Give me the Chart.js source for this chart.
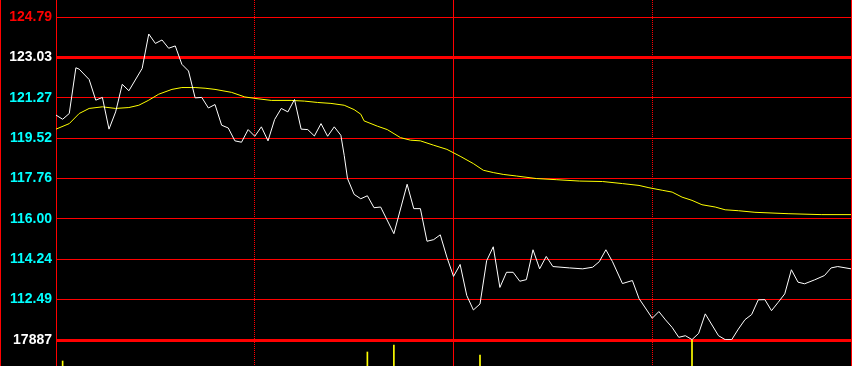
<!DOCTYPE html>
<html>
<head>
<meta charset="utf-8">
<script src="https://cdn.jsdelivr.net/npm/chart.js@4"></script>
<style>html,body{margin:0;padding:0;background:#000;}canvas{display:block;}</style>
</head>
<body>
<canvas id="c" width="852" height="366"></canvas>
<script>
// ---- data (minute of session 0..240) ----
const totalMinutes = 240;
const sessionMarks = [60, 120, 180];

const priceMinutes = [0,2,4,6,7,10,12,14,16,18,20,22,26,28,30,32,34,36,38,40,42,44,46,48,50,52,54,56,58,60,62,64,66,68,70,72,74,76,78,80,82,84,86,87,88,90,92,94,96,98,102,106,108,110,112,114,116,118,120,122,124,126,128,130,132,134,136,138,140,142,144,146,148,150,155,159,162,164,166,168,171,174,176,180,182,184,186,188,190,192,194,196,200,202,204,206,208,210,212,214,216,218,220,222,224,226,229,232,234,236,240];
const priceValues = [120.52,120.34,120.59,122.58,122.52,122.07,121.17,121.29,119.91,120.66,121.86,121.58,122.55,124.05,123.64,123.79,123.43,123.53,122.73,122.44,121.27,121.29,120.83,120.98,120.08,119.96,119.40,119.34,119.89,119.60,120.01,119.40,120.33,120.81,120.66,121.20,119.91,119.89,119.61,120.15,119.60,120.01,119.64,118.77,117.76,117.07,116.88,117.01,116.49,116.52,115.36,117.51,116.45,116.45,115.03,115.10,115.31,114.34,113.50,114.02,112.67,112.04,112.30,114.18,114.79,113.02,113.68,113.68,113.29,113.36,114.66,113.83,114.37,113.93,113.87,113.83,113.90,114.14,114.66,114.14,113.19,113.32,112.54,111.68,111.97,111.61,111.28,110.85,110.92,110.75,111.02,111.87,110.92,110.75,110.75,111.21,111.62,111.84,112.48,112.49,112.01,112.37,112.74,113.79,113.25,113.18,113.35,113.54,113.87,113.93,113.83];

const avgMinutes = [0,4,7,10,14,18,22,25,28,31,35,38,42,45,48,53,57,61,65,71,75,79,83,87,90,92,93,97,100,104,107,110,114,118,122,126,129,132,135,139,145,151,158,165,171,176,179,183,186,189,192,195,199,202,206,211,221,231,240];
const avgValues = [119.91,120.15,120.59,120.81,120.88,120.81,120.85,120.95,121.17,121.43,121.64,121.72,121.72,121.69,121.64,121.51,121.31,121.23,121.16,121.16,121.13,121.07,121.03,120.95,120.76,120.56,120.27,120.04,119.89,119.54,119.43,119.40,119.21,119.03,118.73,118.41,118.12,118.02,117.94,117.87,117.76,117.71,117.65,117.63,117.54,117.46,117.36,117.25,117.17,116.95,116.81,116.62,116.52,116.40,116.36,116.29,116.23,116.19,116.19];

const volMinutes = [2, 94, 102, 128, 192];
const volValues = [3440, 9630, 14450, 7570, 17887];

const priceTicks = [124.79, 123.03, 121.27, 119.52, 117.76, 116.00, 114.24, 112.49];
const prevClose = 123.03;
const priceMin = 110.733;
const priceMax = 124.79;
const volTicks = [17887];
const volMax = 17887;

const RED = '#ff0000';

const framePlugin = {
  id: 'frame',
  beforeDraw(chart) {
    const c = chart.ctx;
    c.save();
    c.fillStyle = '#000';
    c.fillRect(0, 0, chart.width, chart.height);
    c.restore();
  },
  beforeDatasetsDraw(chart) {
    const c = chart.ctx;
    const xs = chart.scales.x;
    const H = chart.height;
    c.save();
    c.strokeStyle = RED;
    c.lineWidth = 1;
    [0.5, chart.chartArea.left + 0.5, chart.chartArea.right + 0.5].forEach(x => {
      c.beginPath(); c.moveTo(x, 0); c.lineTo(x, H); c.stroke();
    });
    sessionMarks.forEach(m => {
      const x = Math.floor(xs.getPixelForValue(m)) + 0.5;
      c.setLineDash(m === 120 ? [] : [1, 1]);
      c.beginPath(); c.moveTo(x, 0); c.lineTo(x, H); c.stroke();
    });
    c.restore();
  }
};

const labelFont = { family: 'Liberation Sans', size: 14, weight: 'bold' };
const fitAxis = s => { s.width = 56; s.paddingTop = 0; s.paddingBottom = 0; };

new Chart(document.getElementById('c'), {
  type: 'line',
  data: {
    datasets: [
      {
        label: 'price',
        data: priceMinutes.map((m, i) => ({ x: m, y: priceValues[i] })),
        borderColor: '#ffffff', borderWidth: 1, pointRadius: 0, tension: 0,
        yAxisID: 'y', order: 0
      },
      {
        label: 'avg',
        data: avgMinutes.map((m, i) => ({ x: m, y: avgValues[i] })),
        borderColor: '#ffff00', borderWidth: 1, pointRadius: 0, tension: 0,
        yAxisID: 'y', order: 1
      },
      {
        type: 'bar',
        label: 'volume',
        data: volMinutes.map((m, i) => ({ x: m, y: volValues[i] })),
        backgroundColor: '#ffff00', borderWidth: 0, barThickness: 1,
        yAxisID: 'yVol', order: 2
      }
    ]
  },
  options: {
    responsive: false,
    animation: false,
    devicePixelRatio: 1,
    layout: { padding: { top: 17, right: 1, bottom: 0, left: 0 } },
    plugins: { legend: { display: false }, tooltip: { enabled: false } },
    scales: {
      x: { type: 'linear', min: 0, max: totalMinutes, offset: false, display: false },
      y: {
        type: 'linear', position: 'left', stack: 'v', stackWeight: 323, weight: 1,
        min: priceMin, max: priceMax,
        afterBuildTicks: s => { s.ticks = priceTicks.map(v => ({ value: v })); },
        afterFit: fitAxis,
        border: { display: false },
        grid: {
          color: RED, drawTicks: false,
          lineWidth: ctx => (ctx.tick && ctx.tick.value === prevClose) ? 3 : 1
        },
        ticks: {
          autoSkip: false, padding: 4, font: labelFont,
          color: ctx => {
            const v = ctx.tick ? ctx.tick.value : 0;
            if (v > prevClose) return '#ff0000';
            if (v === prevClose) return '#ffffff';
            return '#00ffff';
          },
          callback: v => Number(v).toFixed(2)
        }
      },
      yVol: {
        type: 'linear', position: 'left', stack: 'v', stackWeight: 26, weight: 0,
        min: 0, max: volMax,
        afterBuildTicks: s => { s.ticks = volTicks.map(v => ({ value: v })); },
        afterFit: fitAxis,
        border: { display: false },
        grid: { color: RED, drawTicks: false, lineWidth: 3 },
        ticks: {
          autoSkip: false, padding: 4, font: labelFont, color: '#ffffff',
          callback: v => String(v)
        }
      }
    }
  },
  plugins: [framePlugin]
});
</script>
</body>
</html>
